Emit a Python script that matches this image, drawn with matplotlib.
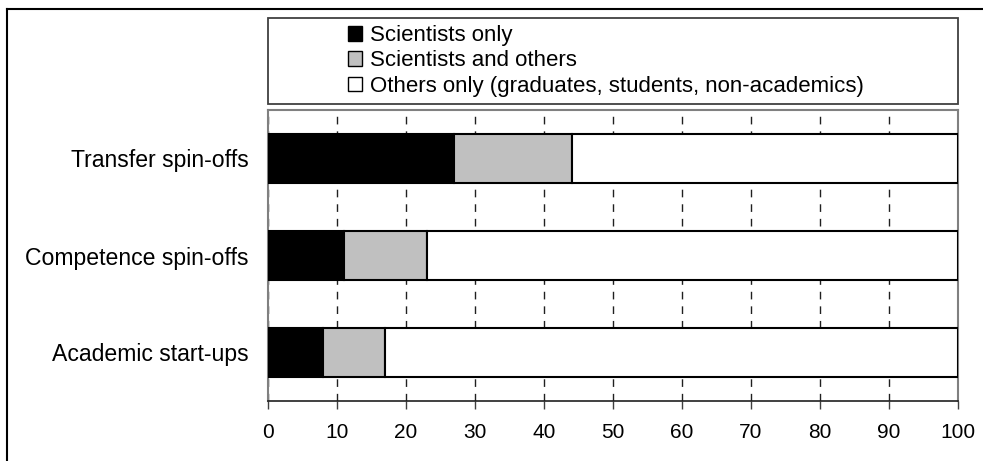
import matplotlib
matplotlib.use("Agg")
import matplotlib.pyplot as plt
from matplotlib.patches import Patch, Rectangle
from matplotlib.lines import Line2D

plt.rcParams['font.family'] = ['Liberation Sans', 'DejaVu Sans']

categories = ["Transfer spin-offs", "Competence spin-offs", "Academic start-ups"]
series_names = ["Scientists only", "Scientists and others",
                "Others only (graduates, students, non-academics)"]
scientists_only = [27, 11, 8]
scientists_and_others = [17, 12, 9]
others_only = [56, 77, 83]
series_colors = ["#000000", "#c0c0c0", "#ffffff"]
x_ticks = [0, 10, 20, 30, 40, 50, 60, 70, 80, 90, 100]

W, H = 983, 461
fig = plt.figure(figsize=(W / 100, H / 100), dpi=100)

ax = fig.add_axes([268 / W, 1 - 401 / H, (958 - 268) / W, (401 - 110) / H])

ypos = list(range(len(categories)))
left = [0] * len(categories)
for vals, color, name in zip([scientists_only, scientists_and_others, others_only],
                             series_colors, series_names):
    ax.barh(ypos, vals, left=left, height=0.5, color=color,
            edgecolor="black", linewidth=1.5, label=name, zorder=3)
    left = [l + v for l, v in zip(left, vals)]

ax.set_xlim(0, 100)
ax.set_ylim(2.5, -0.5)
ax.set_xticks(x_ticks)
ax.set_xticklabels([str(t) for t in x_ticks], fontsize=15)
ax.set_yticks(ypos)
ax.set_yticklabels(categories, fontsize=16.6)
ax.tick_params(axis="y", length=0, pad=14)
ax.tick_params(axis="x", length=5.8, width=1, color="#404040", pad=10)

ax.xaxis.grid(True, color="#202020", linestyle=(0, (5.5, 5)), linewidth=1, zorder=1)
ax.set_axisbelow(True)

for side in ["left", "top", "right"]:
    ax.spines[side].set_color("#808080")
    ax.spines[side].set_linewidth(1.5)
ax.spines["bottom"].set_color("#202020")
ax.spines["bottom"].set_linewidth(1.2)

# legend box above the plot
fig.patches.append(Rectangle((268 / W, 1 - 104 / H), (958 - 268) / W, (104 - 18) / H,
                             transform=fig.transFigure, facecolor="white",
                             edgecolor="#404040", linewidth=1.3))
handles = [Patch(facecolor=c, edgecolor="black", linewidth=1) for c in series_colors]
fig.legend(handles, series_names, loc="upper left",
           bbox_to_anchor=(348 / W, 1 - 25 / H), frameon=False,
           fontsize=16, handlelength=0.65, handleheight=0.65,
           handletextpad=0.35, labelspacing=0.2, borderpad=0, borderaxespad=0)

# outer frame lines along the top and left edges
fig.add_artist(Line2D([7 / W, 1], [1 - 9 / H, 1 - 9 / H], transform=fig.transFigure,
                      color="black", linewidth=1.5))
fig.add_artist(Line2D([7 / W, 7 / W], [0, 1 - 9 / H], transform=fig.transFigure,
                      color="black", linewidth=1.5))

fig.savefig("out.png", dpi=100)
